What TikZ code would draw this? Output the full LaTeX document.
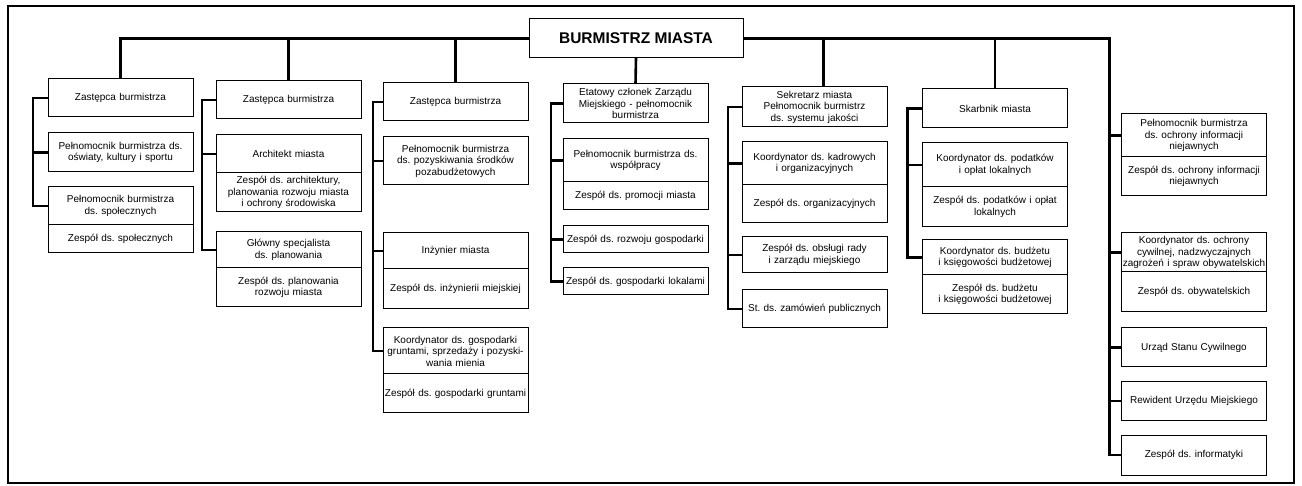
\documentclass[tikz,border=0pt]{standalone}
\usepackage{fontspec}
\setmainfont{Liberation Sans}
\frenchspacing
\usepackage{tikz}
\usetikzlibrary{positioning}
\tikzstyle{unit} = [rectangle, draw=black, line width=1pt, outer sep=0pt, inner xsep=0pt, inner ysep=2pt, text width=145pt, align=center, font=\fontsize{10}{11.5}\selectfont]
\tikzstyle{head} = [rectangle, draw=black, line width=1pt, outer sep=0pt, minimum width=214pt, minimum height=39pt, font=\fontsize{15.5}{18}\selectfont\bfseries]
\tikzstyle{link} = [line width=2.6pt]
\tikzstyle{frame} = [line width=1.4pt]

\begin{document}
\begin{tikzpicture}[x=1pt, y=-1pt]
	\useasboundingbox (0,0) rectangle (1302,486);
	\draw [frame] (8,6) rectangle (1294,483);

	\node (boss) [head] at (636,38.5) {BURMISTRZ MIASTA};

	\node (A1) [unit, minimum height=38pt, anchor=north] at (120.5,79) {Zastępca burmistrza};
	\node (A2) [unit, minimum height=39pt, below=16pt of A1] {
		Pełnomocnik burmistrza ds.\\
		oświaty, kultury i sportu};
	\node (A3) [unit, minimum height=38pt, below=15pt of A2] {
		Pełnomocnik burmistrza\\
		ds. społecznych};
	\node (A3s) [unit, minimum height=28pt, below=0pt of A3] {Zespół ds. społecznych};

	\node (B1) [unit, minimum height=38pt, anchor=north] at (288.5,81) {Zastępca burmistrza};
	\node (B2) [unit, minimum height=38pt, below=16pt of B1] {Architekt miasta};
	\node (B2s) [unit, minimum height=39pt, below=0pt of B2] {
		Zespół ds. architektury,\\
		planowania rozwoju miasta\\
		i ochrony środowiska};
	\node (B3) [unit, minimum height=36pt, below=20pt of B2s] {
		Główny specjalista\\
		ds. planowania};
	\node (B3s) [unit, minimum height=39pt, below=0pt of B3] {
		Zespół ds. planowania\\
		rozwoju miasta};

	\node (C1) [unit, minimum height=38pt, anchor=north] at (455.5,83) {Zastępca burmistrza};
	\node (C2) [unit, minimum height=48pt, below=16pt of C1] {
		Pełnomocnik burmistrza\\
		ds. pozyskiwania środków\\
		pozabudżetowych};
	\node (C3) [unit, minimum height=36pt, below=48pt of C2] {Inżynier miasta};
	\node (C3s) [unit, minimum height=40pt, below=0pt of C3] {Zespół ds. inżynierii miejskiej};
	\node (C4) [unit, minimum height=46pt, below=19pt of C3s] {
		Koordynator ds. gospodarki\\
		gruntami, sprzedaży i pozyski-\\
		wania mienia};
	\node (C4s) [unit, minimum height=39pt, below=0pt of C4] {Zespół ds. gospodarki gruntami};

	\node (D1) [unit, minimum height=39pt, anchor=north] at (635.5,84) {
		Etatowy członek Zarządu\\
		Miejskiego - pełnomocnik\\
		burmistrza};
	\node (D2) [unit, minimum height=43pt, below=16pt of D1] {
		Pełnomocnik burmistrza ds.\\
		współpracy};
	\node (D2s) [unit, minimum height=28pt, below=0pt of D2] {Zespół ds. promocji miasta};
	\node (D3) [unit, minimum height=27pt, below=16pt of D2s] {Zespół ds. rozwoju gospodarki};
	\node (D4) [unit, minimum height=27pt, below=15pt of D3] {Zespół ds. gospodarki lokalami};

	\node (E1) [unit, minimum height=40pt, anchor=north] at (814.5,87) {
		Sekretarz miasta\\
		Pełnomocnik burmistrz\\
		ds. systemu jakości};
	\node (E2) [unit, minimum height=43pt, below=15pt of E1] {
		Koordynator ds. kadrowych\\
		i organizacyjnych};
	\node (E2s) [unit, minimum height=38pt, below=0pt of E2] {Zespół ds. organizacyjnych};
	\node (E3) [unit, minimum height=36pt, below=14pt of E2s] {
		Zespół ds. obsługi rady\\
		i zarządu miejskiego};
	\node (E4) [unit, minimum height=38pt, below=17pt of E3] {St. ds. zamówień publicznych};

	\node (F1) [unit, minimum height=39pt, anchor=north] at (995,89) {Skarbnik miasta};
	\node (F2) [unit, minimum height=44pt, below=15pt of F1] {
		Koordynator ds. podatków\\
		i opłat lokalnych};
	\node (F2s) [unit, minimum height=40pt, below=0pt of F2] {
		Zespół ds. podatków i opłat\\
		lokalnych};
	\node (F3) [unit, minimum height=35pt, below=13pt of F2s] {
		Koordynator ds. budżetu\\
		i księgowości budżetowej};
	\node (F3s) [unit, minimum height=39pt, below=0pt of F3] {
		Zespół ds. budżetu\\
		i księgowości budżetowej};

	\node (G1) [unit, minimum height=43pt, anchor=north] at (1194,114) {
		Pełnomocnik burmistrza\\
		ds. ochrony informacji\\
		niejawnych};
	\node (G1s) [unit, minimum height=39pt, below=0pt of G1] {
		Zespół ds. ochrony informacji\\
		niejawnych};
	\node (G2) [unit, minimum height=39pt, below=37pt of G1s] {
		Koordynator ds. ochrony\\
		cywilnej, nadzwyczajnych\\
		\mbox{zagrożeń i spraw obywatelskich}};
	\node (G2s) [unit, minimum height=40pt, below=0pt of G2] {Zespół ds. obywatelskich};
	\node (G3) [unit, minimum height=39pt, below=16pt of G2s] {Urząd Stanu Cywilnego};
	\node (G4) [unit, minimum height=38pt, below=15pt of G3] {Rewident Urzędu Miejskiego};
	\node (G5) [unit, minimum height=40pt, below=15pt of G4] {Zespół ds. informatyki};

	\draw [link] (boss.west) -| (A1.north);
	\draw [link] (B1.north) -- (B1.north |- boss.west);
	\draw [link] (C1.north) -- (C1.north |- boss.west);
	\draw [link] (boss.south) -- (D1.north);
	\draw [link] ([xshift=9pt]E1.north) -- ([xshift=9pt]E1.north |- boss.east);
	\draw [link] (F1.north) -- (F1.north |- boss.east);
	\draw [link] (boss.east) -| ([xshift=-12pt]G5.west) -- (G5.west);

	\draw [link] (A1.west) -- ++(-15pt,0) |- (A3.west);
	\draw [link] (A2.west) -- ++(-15pt,0);
	\draw [link] (B1.west) -- ++(-14pt,0) |- (B3.west);
	\draw [link] (B2.west) -- ++(-14pt,0);
	\draw [link] (C1.west) -- ++(-10pt,0) |- (C4.west);
	\draw [link] (C2.west) -- ++(-10pt,0);
	\draw [link] (C3.west) -- ++(-10pt,0);
	\draw [link] (D1.west) -- ++(-12pt,0) |- (D4.west);
	\draw [link] (D2.west) -- ++(-12pt,0);
	\draw [link] (D3.west) -- ++(-12pt,0);
	\draw [link] (E1.west) -- ++(-14pt,0) |- (E4.west);
	\draw [link] (E2.west) -- ++(-14pt,0);
	\draw [link] (E3.west) -- ++(-14pt,0);
	\draw [link] (F1.west) -- ++(-15pt,0) |- (F3.west);
	\draw [link] (F2.west) -- ++(-15pt,0);
	\draw [link] (G1.west) -- ++(-12pt,0);
	\draw [link] (G2.west) -- ++(-12pt,0);
	\draw [link] (G3.west) -- ++(-12pt,0);
	\draw [link] (G4.west) -- ++(-12pt,0);
\end{tikzpicture}
\end{document}
